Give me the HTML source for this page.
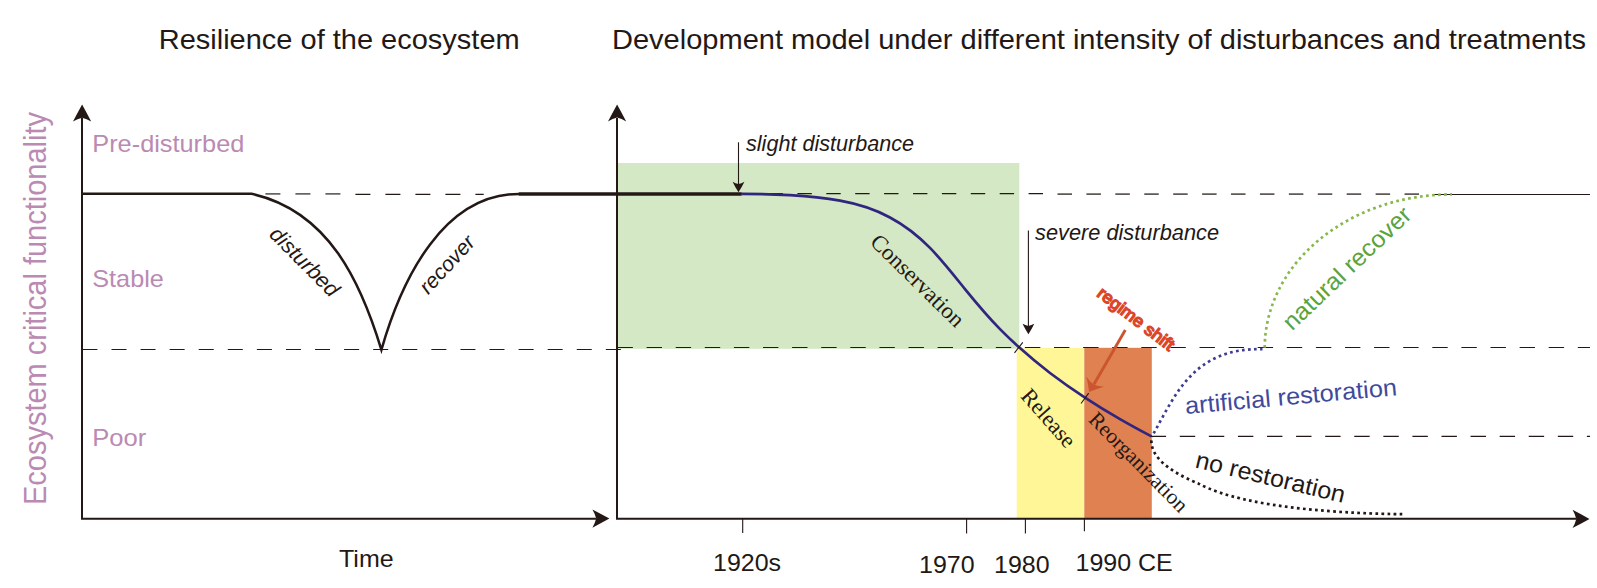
<!DOCTYPE html>
<html>
<head>
<meta charset="utf-8">
<title>Resilience of the ecosystem</title>
<style>
html,body{margin:0;padding:0;background:#fff;}
body{width:1597px;height:588px;overflow:hidden;}
svg{display:block;}
text{font-family:"Liberation Sans",Arial,sans-serif;fill:#231815;}
.serif{font-family:"Liberation Serif","Times New Roman",serif;}
.it{font-style:italic;}
.pk{fill:#ba8ab3;}
</style>
</head>
<body>
<svg width="1597" height="588" viewBox="0 0 1597 588">
<rect x="0" y="0" width="1597" height="588" fill="#ffffff"/>
<!-- coloured phase rectangles -->
<rect x="617" y="163" width="402.3" height="185.8" fill="#d4e8c5"/>
<rect x="1016.7" y="347.8" width="67.7" height="171" fill="#fff797"/>
<rect x="1084.3" y="347.8" width="67.5" height="171" fill="#e08151"/>
<!-- titles -->
<text x="158.7" y="48.8" font-size="28" textLength="361" lengthAdjust="spacingAndGlyphs">Resilience of the ecosystem</text>
<text x="612" y="48.8" font-size="28" textLength="974" lengthAdjust="spacingAndGlyphs">Development model under different intensity of disturbances and treatments</text>
<!-- y axis label -->
<text class="pk" transform="translate(46,505) rotate(-90)" font-size="31" textLength="393" lengthAdjust="spacingAndGlyphs">Ecosystem critical functionality</text>
<!-- state labels -->
<text class="pk" x="92.3" y="152.3" font-size="24" textLength="152" lengthAdjust="spacingAndGlyphs">Pre-disturbed</text>
<text class="pk" x="92.3" y="286.5" font-size="24" textLength="71.5" lengthAdjust="spacingAndGlyphs">Stable</text>
<text class="pk" x="92.3" y="445.8" font-size="24" textLength="54" lengthAdjust="spacingAndGlyphs">Poor</text>
<!-- dashed reference lines -->
<g fill="none" stroke="#231815" stroke-width="1.15">
  <line x1="265.4" y1="193.9" x2="345" y2="193.9" stroke-dasharray="15 15" stroke="#6a6561" stroke-width="1.7"/>
  <line x1="355.4" y1="194.3" x2="483.7" y2="194.3" stroke-dasharray="15 15" stroke-width="1.2"/>
  <line x1="82.4" y1="349.5" x2="621.7" y2="349.5" stroke-dasharray="15 14.08"/>
  <line x1="617.5" y1="347.5" x2="1590" y2="347.5" stroke-dasharray="15.4 13.7"/>
  <line x1="739.6" y1="193.6" x2="1046" y2="193.6" stroke-dasharray="14.4 14.5"/>
  <line x1="1057.5" y1="194.05" x2="1432" y2="194.05" stroke-dasharray="14.5 14.42" stroke="#5f5a57" stroke-width="1.7"/>
  <line x1="1434" y1="194.4" x2="1590" y2="194.4" stroke-width="1.05"/>
  <line x1="1150.7" y1="436.4" x2="1590" y2="436.4" stroke-dasharray="15.4 13.68"/>
</g>
<!-- axes -->
<g fill="none" stroke="#231815" stroke-width="2">
  <polyline points="82,118 82,518.8 596,518.8"/>
  <polyline points="617,118 617,518.8 1576.5,518.8"/>
</g>
<g fill="#231815">
  <path d="M82.1,104.6 Q77.4,113.1 73.0,121.6 Q77.5,118.9 82.1,117.8 Q86.6,118.9 91.2,121.6 Q86.8,113.1 82.1,104.6Z"/>
  <path d="M617.1,104.4 Q612.4,112.9 608.0,121.4 Q612.6,118.7 617.1,117.6 Q621.6,118.7 626.2,121.4 Q621.8,112.9 617.1,104.4Z"/>
  <path d="M609.4,518.6 Q600.9,513.9 592.4,509.5 Q595.1,514.1 596.2,518.6 Q595.1,523.1 592.4,527.7 Q600.9,523.3 609.4,518.6Z"/>
  <path d="M1589.5,518.9 Q1581.0,514.2 1572.5,509.8 Q1575.2,514.4 1576.3,518.9 Q1575.2,523.4 1572.5,528.0 Q1581.0,523.6 1589.5,518.9Z"/>
</g>
<!-- left panel curve -->
<path d="M82,193.8 L251.6,193.8 C329.3,211 361.1,283.2 381.4,349.8 C402.6,276 444.6,193.9 519.1,193.9" fill="none" stroke="#231815" stroke-width="2.5" stroke-linejoin="miter" stroke-miterlimit="10"/>
<line x1="518.8" y1="194" x2="741.7" y2="194" stroke="#231815" stroke-width="3.7"/>
<text class="it" transform="translate(268.2,235.6) rotate(45)" font-size="21.5">disturbed</text>
<text class="it" transform="translate(428.3,295.2) rotate(-47.3)" font-size="21.2">recover</text>
<text x="339" y="567.3" font-size="24" textLength="54.6" lengthAdjust="spacingAndGlyphs">Time</text>
<!-- right panel main curve -->
<path d="M741.7,193.8 C757.8,193.8 773.9,194.3 790.0,195.2 C806.7,196.2 823.3,197.7 840.0,200.7 C856.7,203.7 873.3,208.5 890.0,217.5 C903.3,224.6 916.7,234.4 930.0,247.9 C941.7,259.8 953.3,274.6 965.0,289.1 C976.7,303.5 988.3,317.2 1000.0,329.1 C1006.3,335.4 1012.5,341.4 1018.8,347.1 C1029.2,356.5 1039.6,365.0 1050.0,373.0 C1061.7,381.9 1073.3,390.0 1085.0,397.6 C1096.7,405.3 1108.3,412.4 1120.0,419.2 C1130.5,425.2 1141.0,431.0 1151.5,436.4" fill="none" stroke="#31267f" stroke-width="2.7"/>
<g stroke="#231815" stroke-width="1.1" fill="none">
  <line x1="1014.5" y1="352.8" x2="1022.8" y2="342.3"/>
  <line x1="1081" y1="403.5" x2="1088.7" y2="393.2"/>
</g>
<!-- disturbance arrows -->
<g stroke="#231815" stroke-width="1.1" fill="none">
  <line x1="738.5" y1="142.3" x2="738.5" y2="186"/>
  <line x1="1028.4" y1="230.5" x2="1028.4" y2="328"/>
</g>
<g fill="#231815">
  <path d="M738.5,192.3 Q741.9,187.1 744.4,181.8 Q741.5,183.5 738.5,184.1 Q735.5,183.5 732.6,181.8 Q735.1,187.1 738.5,192.3Z"/>
  <path d="M1028.4,334.2 Q1031.8,328.9 1034.3,323.7 Q1031.4,325.3 1028.4,326.0 Q1025.5,325.3 1022.5,323.7 Q1025.1,328.9 1028.4,334.2Z"/>
</g>
<text class="it" x="746" y="151.2" font-size="21.5" textLength="168" lengthAdjust="spacingAndGlyphs">slight disturbance</text>
<text class="it" x="1035" y="240.1" font-size="21.5" textLength="184" lengthAdjust="spacingAndGlyphs">severe disturbance</text>
<!-- phase labels -->
<text class="serif" transform="translate(869,243.2) rotate(44.6)" font-size="22.8">Conservation</text>
<text class="serif" transform="translate(1019.8,396.8) rotate(48.6)" font-size="22.5">Release</text>
<text class="serif" transform="translate(1087.5,420.5) rotate(45.3)" font-size="21.5">Reorganization</text>
<!-- regime shift -->
<text transform="translate(1096,295.5) rotate(37.5)" font-size="17" textLength="92" lengthAdjust="spacingAndGlyphs" style="fill:#dc4629;stroke:#dc4629;stroke-width:1.4px;">regime shift</text>
<line x1="1125.3" y1="330" x2="1093.8" y2="384.4" stroke="#cb552e" stroke-width="2.9"/>
<path d="M1089.1,392.0 Q1095.8,389.0 1103.8,386.7 Q1098.1,386.4 1093.5,384.4 Q1089.4,381.4 1086.3,376.6 Q1088.4,384.7 1089.1,392.0Z" fill="#cb552e"/>
<!-- dotted scenario curves -->
<g fill="none" stroke-width="2.7" stroke-dasharray="2.7 3.35">
  <path d="M1152.2,436 C1174.9,395.9 1193,347.4 1262.5,349.2" stroke="#3d3c90" stroke-dashoffset="3.05"/>
  <path d="M1264.7,348.6 C1264.7,263.4 1348.3,194.4 1452,194.4" stroke="#86b84a" stroke-dashoffset="5.2"/>
  <path d="M1151.8,436.5 C1147.2,460.5 1180.7,476.1 1199,483.9 C1247.4,509.3 1350.6,513.6 1403,514.2" stroke="#231815" stroke-dashoffset="2.2"/>
</g>
<text transform="translate(1185.8,414.1) rotate(-5.1)" font-size="24" textLength="212.5" lengthAdjust="spacingAndGlyphs" style="fill:#3f4a9d;">artificial restoration</text>
<text transform="translate(1292,331.5) rotate(-43.5)" font-size="24" textLength="166.7" lengthAdjust="spacingAndGlyphs" style="fill:#5aa43b;">natural recover</text>
<text transform="translate(1194.3,467.2) rotate(13.5)" font-size="24" textLength="152.9" lengthAdjust="spacingAndGlyphs">no restoration</text>
<!-- time ticks and labels -->
<g stroke="#231815" stroke-width="1.1" fill="none">
  <line x1="742.7" y1="518.6" x2="742.7" y2="533"/>
  <line x1="966.6" y1="518.6" x2="966.6" y2="533.5"/>
  <line x1="1025.4" y1="518.6" x2="1025.4" y2="533.5"/>
  <line x1="1084.4" y1="518.6" x2="1084.4" y2="531.3"/>
</g>
<text x="713" y="570.8" font-size="24" textLength="68.1" lengthAdjust="spacingAndGlyphs">1920s</text>
<text x="919" y="572.8" font-size="24" textLength="55.6" lengthAdjust="spacingAndGlyphs">1970</text>
<text x="994" y="572.8" font-size="24" textLength="55.6" lengthAdjust="spacingAndGlyphs">1980</text>
<text x="1075.5" y="571.2" font-size="24" textLength="97.3" lengthAdjust="spacingAndGlyphs">1990 CE</text>
</svg>
</body>
</html>
